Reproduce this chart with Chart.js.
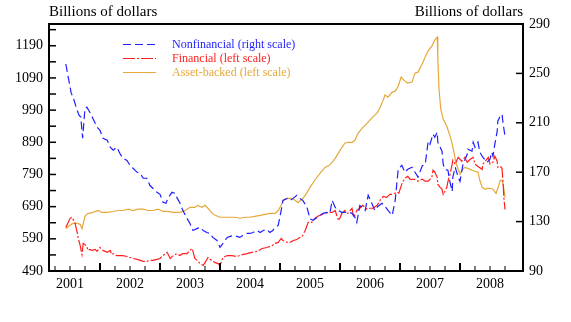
<!DOCTYPE html>
<html>
<head>
<meta charset="utf-8">
<script src="https://cdn.jsdelivr.net/npm/chart.js@4.4.1/dist/chart.umd.min.js"></script>
<style>
  html, body { margin: 0; padding: 0; background: #fff; }
  #wrap { width: 571px; height: 322px; }
</style>
</head>
<body>
<div id="wrap"><canvas id="cpChart" width="571" height="322"></canvas></div>
<script>
// Commercial paper outstanding, billions of dollars, [year, value]
const yearLabels = [2001, 2002, 2003, 2004, 2005, 2006, 2007, 2008];
const leftTicks = [490, 590, 690, 790, 890, 990, 1090, 1190];
const rightTicks = [90, 130, 170, 210, 250, 290];

// right scale
const nonfinancial = [
  [2001.43,257.6],[2001.48,244.6],[2001.52,234.0],[2001.55,230.8],[2001.62,220.2],[2001.65,216.2],
  [2001.68,214.6],[2001.71,197.5],[2001.75,221.9],[2001.78,222.7],[2001.83,218.6],[2001.88,213.7],
  [2001.95,206.4],[2002.00,204.0],[2002.05,197.5],[2002.12,195.9],[2002.17,190.2],[2002.22,187.8],
  [2002.28,190.2],[2002.33,185.3],[2002.38,181.3],[2002.45,179.6],[2002.50,175.6],[2002.55,173.2],
  [2002.62,169.9],[2002.67,169.1],[2002.72,165.1],[2002.78,165.1],[2002.83,159.4],[2002.88,157.0],
  [2002.95,153.7],[2003.00,152.1],[2003.05,145.6],[2003.10,144.8],[2003.13,148.8],[2003.20,153.7],
  [2003.25,152.9],[2003.28,149.6],[2003.33,145.2],[2003.38,139.1],[2003.45,132.6],[2003.50,128.5],
  [2003.55,122.8],[2003.62,124.5],[2003.67,125.3],[2003.72,122.8],[2003.78,121.2],[2003.83,120.4],
  [2003.88,117.2],[2003.95,114.7],[2004.00,109.1],[2004.05,112.3],[2004.12,117.2],[2004.17,118.0],
  [2004.22,118.8],[2004.28,118.0],[2004.33,117.2],[2004.38,118.8],[2004.45,120.4],[2004.50,120.4],
  [2004.55,121.2],[2004.62,122.8],[2004.67,121.2],[2004.72,122.8],[2004.78,123.7],[2004.83,121.2],
  [2004.88,122.8],[2004.92,125.3],[2004.97,126.9],[2005.02,139.1],[2005.05,147.2],[2005.12,148.8],
  [2005.17,147.2],[2005.22,148.8],[2005.28,151.3],[2005.33,148.8],[2005.38,147.2],[2005.45,141.5],
  [2005.50,132.2],[2005.55,131.0],[2005.62,133.4],[2005.67,135.0],[2005.72,136.7],[2005.78,137.5],
  [2005.83,136.7],[2005.87,147.2],[2005.92,141.5],[2005.97,139.1],[2006.03,137.5],[2006.08,137.5],
  [2006.13,138.0],[2006.20,136.7],[2006.25,133.4],[2006.28,129.4],[2006.33,143.0],[2006.38,141.5],
  [2006.42,139.1],[2006.47,151.3],[2006.53,144.8],[2006.58,139.1],[2006.63,142.3],[2006.70,144.8],
  [2006.75,142.3],[2006.80,139.1],[2006.87,135.0],[2006.92,147.2],[2006.97,172.4],[2007.00,174.0],
  [2007.03,175.6],[2007.08,169.9],[2007.13,172.4],[2007.20,174.0],[2007.25,170.0],[2007.30,166.0],
  [2007.37,175.0],[2007.42,176.4],[2007.47,195.1],[2007.50,192.6],[2007.55,200.8],[2007.58,198.3],
  [2007.62,202.4],[2007.63,194.3],[2007.70,187.0],[2007.72,176.4],[2007.75,172.4],[2007.80,171.5],
  [2007.83,162.6],[2007.87,154.5],[2007.88,165.9],[2007.92,174.0],[2007.97,165.9],[2008.00,162.6],
  [2008.05,176.4],[2008.12,184.5],[2008.13,188.6],[2008.20,187.0],[2008.22,194.3],[2008.25,190.2],
  [2008.30,194.3],[2008.33,186.2],[2008.37,182.9],[2008.38,182.1],[2008.45,178.0],[2008.50,180.5],
  [2008.53,186.2],[2008.55,182.9],[2008.58,192.6],[2008.62,203.2],[2008.63,211.3],[2008.67,215.4],
  [2008.70,217.0],[2008.72,208.9],[2008.75,199.1]
];

// left scale
const financial = [
  [2001.43,625],[2001.47,641],[2001.50,653],[2001.53,657],[2001.58,641],[2001.62,610],[2001.63,598],
  [2001.67,569],[2001.70,541],[2001.72,576],[2001.75,572],[2001.78,566],[2001.80,554],[2001.83,557],
  [2001.87,554],[2001.92,557],[2001.95,551],[2002.00,563],[2002.05,554],[2002.12,548],[2002.17,554],
  [2002.20,541],[2002.22,544],[2002.28,538],[2002.33,538],[2002.38,538],[2002.45,535],[2002.50,532],
  [2002.55,529],[2002.62,526],[2002.67,523],[2002.72,520],[2002.78,520],[2002.83,523],[2002.88,523],
  [2002.95,526],[2003.00,529],[2003.05,538],[2003.12,548],[2003.17,529],[2003.22,538],[2003.28,544],
  [2003.33,538],[2003.38,544],[2003.45,544],[2003.50,554],[2003.53,560],[2003.55,551],[2003.58,529],
  [2003.62,523],[2003.67,513],[2003.72,507],[2003.75,516],[2003.80,532],[2003.83,526],[2003.87,523],
  [2003.92,516],[2003.97,513],[2004.00,507],[2004.05,532],[2004.12,538],[2004.20,538],[2004.28,535],
  [2004.37,541],[2004.45,544],[2004.53,548],[2004.62,551],[2004.70,560],[2004.78,563],[2004.87,569],
  [2004.92,576],[2004.97,579],[2005.02,591],[2005.05,585],[2005.12,579],[2005.17,579],[2005.22,585],
  [2005.28,588],[2005.33,594],[2005.37,597],[2005.42,616],[2005.47,641],[2005.53,641],[2005.58,653],
  [2005.63,660],[2005.70,666],[2005.75,669],[2005.80,672],[2005.87,672],[2005.92,678],[2005.95,660],
  [2005.98,647],[2006.03,669],[2006.08,678],[2006.13,669],[2006.20,685],[2006.23,657],[2006.28,678],
  [2006.33,685],[2006.38,694],[2006.45,682],[2006.50,685],[2006.55,685],[2006.62,694],[2006.67,710],
  [2006.72,722],[2006.78,719],[2006.83,728],[2006.88,728],[2006.95,735],[2006.98,732],[2007.03,760],
  [2007.08,778],[2007.13,784],[2007.17,775],[2007.22,775],[2007.25,775],[2007.30,769],[2007.37,775],
  [2007.42,769],[2007.47,769],[2007.53,781],[2007.55,803],[2007.58,797],[2007.62,781],[2007.63,759],
  [2007.67,750],[2007.70,744],[2007.72,728],[2007.75,738],[2007.78,750],[2007.80,769],[2007.83,787],
  [2007.87,822],[2007.88,834],[2007.92,822],[2007.97,843],[2008.03,831],[2008.08,843],[2008.12,828],
  [2008.17,837],[2008.22,843],[2008.25,822],[2008.30,815],[2008.37,806],[2008.38,822],[2008.42,831],
  [2008.47,843],[2008.50,822],[2008.55,828],[2008.58,847],[2008.62,831],[2008.63,812],[2008.67,815],
  [2008.70,809],[2008.72,759],[2008.73,719],[2008.75,681]
];

// left scale
const assetBacked = [
  [2001.43,622],[2001.50,632],[2001.55,638],[2001.62,638],[2001.67,635],[2001.70,622],[2001.75,660],
  [2001.80,669],[2001.83,669],[2001.88,672],[2001.97,678],[2002.03,672],[2002.12,672],[2002.22,675],
  [2002.30,678],[2002.38,678],[2002.47,682],[2002.55,678],[2002.63,682],[2002.72,682],[2002.80,678],
  [2002.88,678],[2002.97,682],[2003.05,675],[2003.13,675],[2003.22,672],[2003.28,672],[2003.33,672],
  [2003.42,678],[2003.50,688],[2003.58,688],[2003.63,694],[2003.70,688],[2003.75,694],[2003.80,685],
  [2003.87,669],[2003.92,663],[2004.00,657],[2004.08,657],[2004.17,657],[2004.25,657],[2004.33,654],
  [2004.42,657],[2004.50,657],[2004.58,660],[2004.67,663],[2004.75,666],[2004.83,669],[2004.92,669],
  [2004.97,678],[2005.02,694],[2005.05,710],[2005.12,716],[2005.20,716],[2005.25,710],[2005.30,703],
  [2005.37,713],[2005.42,725],[2005.50,750],[2005.58,772],[2005.67,794],[2005.75,812],[2005.83,819],
  [2005.92,840],[2006.00,865],[2006.08,887],[2006.13,890],[2006.20,890],[2006.25,896],[2006.30,918],
  [2006.37,934],[2006.45,949],[2006.53,965],[2006.62,981],[2006.67,999],[2006.72,1021],[2006.75,1037],
  [2006.80,1030],[2006.87,1046],[2006.92,1049],[2006.97,1064],[2007.02,1093],[2007.05,1086],
  [2007.08,1080],[2007.13,1074],[2007.20,1077],[2007.25,1105],[2007.30,1108],[2007.37,1133],
  [2007.42,1155],[2007.47,1174],[2007.53,1189],[2007.58,1208],[2007.62,1217],[2007.63,1155],
  [2007.65,1055],[2007.68,993],[2007.72,962],[2007.78,940],[2007.83,912],[2007.87,884],[2007.90,859],
  [2007.93,828],[2007.97,806],[2008.00,791],[2008.03,803],[2008.08,812],[2008.13,809],[2008.20,803],
  [2008.25,800],[2008.30,797],[2008.33,772],[2008.37,750],[2008.42,744],[2008.47,747],[2008.50,747],
  [2008.55,744],[2008.60,731],[2008.63,747],[2008.67,772],[2008.70,772],[2008.72,759],[2008.75,719]
];

const BLUE = '#1f1fff';
const RED = '#ff1f1f';
const GOLD = '#e5a83a';
const FONT = "'Liberation Serif', 'Times New Roman', serif";

const toPoints = rows => rows.map(([t, v]) => ({ x: t, y: v }));

// frame, inward tick marks, axis titles and the legend block
const framePlugin = {
  id: 'frame',
  afterDatasetsDraw(chart) {
    const { ctx, chartArea: a, scales } = chart;
    const xs = scales.x, yl = scales.yLeft, yr = scales.yRight;
    const seg = (x1, y1, x2, y2) => {
      ctx.beginPath();
      ctx.moveTo(x1, y1);
      ctx.lineTo(x2, y2);
      ctx.stroke();
    };

    ctx.save();
    ctx.strokeStyle = '#000';
    ctx.setLineDash([]);

    ctx.lineWidth = 1.5;
    for (let v = leftTicks[0] + 50; v < yl.max; v += 50) {
      const py = yl.getPixelForValue(v);
      seg(a.left, py, a.left + 7, py);
    }
    rightTicks.slice(1, -1).forEach(v => {
      const py = yr.getPixelForValue(v);
      seg(a.right - 7, py, a.right, py);
    });
    for (let i = 1; i < 32; i++) {
      const t = yearLabels[0] + i / 4;
      const px = xs.getPixelForValue(t);
      if (px <= a.left || px >= a.right) continue;
      const major = i % 4 === 0;
      ctx.lineWidth = major ? 2 : 1;
      seg(px, a.bottom, px, a.bottom - (major ? 8 : 5));
    }

    ctx.lineWidth = 2;
    ctx.strokeRect(a.left, a.top, a.width, a.height);

    ctx.fillStyle = '#000';
    ctx.font = '15px ' + FONT;
    ctx.textBaseline = 'middle';
    ctx.textAlign = 'left';
    ctx.fillText('Billions of dollars', a.left, 12.5);
    ctx.textAlign = 'right';
    ctx.fillText('Billions of dollars', a.right, 12.5);

    ctx.font = '12px ' + FONT;
    ctx.textAlign = 'left';
    chart.data.datasets.forEach((ds, i) => {
      const y = 44.5 + i * 14;
      ctx.strokeStyle = ds.borderColor;
      ctx.lineWidth = 1.2;
      ctx.setLineDash(ds.borderDash || []);
      seg(123, y, 156, y);
      ctx.setLineDash([]);
      ctx.fillStyle = ds.borderColor;
      ctx.fillText(ds.label, 172, y);
    });
    ctx.restore();
  }
};

const tickFont = { family: FONT, size: 14 };

new Chart(document.getElementById('cpChart'), {
  type: 'line',
  data: {
    datasets: [
      {
        label: 'Nonfinancial (right scale)',
        data: toPoints(nonfinancial),
        yAxisID: 'yRight',
        borderColor: BLUE,
        borderDash: [8, 4],
        borderWidth: 1.2
      },
      {
        label: 'Financial (left scale)',
        data: toPoints(financial),
        yAxisID: 'yLeft',
        borderColor: RED,
        borderDash: [12, 2, 2, 2],
        borderWidth: 1.2
      },
      {
        label: 'Asset-backed (left scale)',
        data: toPoints(assetBacked),
        yAxisID: 'yLeft',
        borderColor: GOLD,
        borderWidth: 1.2
      }
    ]
  },
  options: {
    responsive: false,
    animation: false,
    devicePixelRatio: 1,
    layout: { padding: { top: 24, left: 0, right: 0, bottom: 0 } },
    elements: { point: { radius: 0 }, line: { tension: 0 } },
    plugins: { legend: { display: false }, tooltip: { enabled: false } },
    scales: {
      x: {
        type: 'linear',
        min: 2001.15,
        max: 2009.05,
        grid: { display: false, drawTicks: false },
        border: { display: false },
        ticks: {
          font: tickFont,
          color: '#000',
          padding: 5,
          maxRotation: 0,
          autoSkip: false,
          callback: v => String(Math.floor(v))
        },
        afterBuildTicks: s => { s.ticks = yearLabels.map(y => ({ value: y + 0.5 })); },
        afterFit: s => { s.height = 51; }
      },
      yLeft: {
        type: 'linear',
        position: 'left',
        min: 490,
        max: 1257.6,
        grid: { display: false, drawTicks: false },
        border: { display: false },
        ticks: { font: tickFont, color: '#000', padding: 6, callback: v => String(v) },
        afterBuildTicks: s => { s.ticks = leftTicks.map(v => ({ value: v })); },
        afterFit: s => { s.width = 49; }
      },
      yRight: {
        type: 'linear',
        position: 'right',
        min: 90,
        max: 290,
        grid: { display: false, drawTicks: false },
        border: { display: false },
        ticks: { font: tickFont, color: '#000', padding: 6, callback: v => String(v) },
        afterBuildTicks: s => { s.ticks = rightTicks.map(v => ({ value: v })); },
        afterFit: s => { s.width = 48; }
      }
    }
  },
  plugins: [framePlugin]
});
</script>
</body>
</html>
